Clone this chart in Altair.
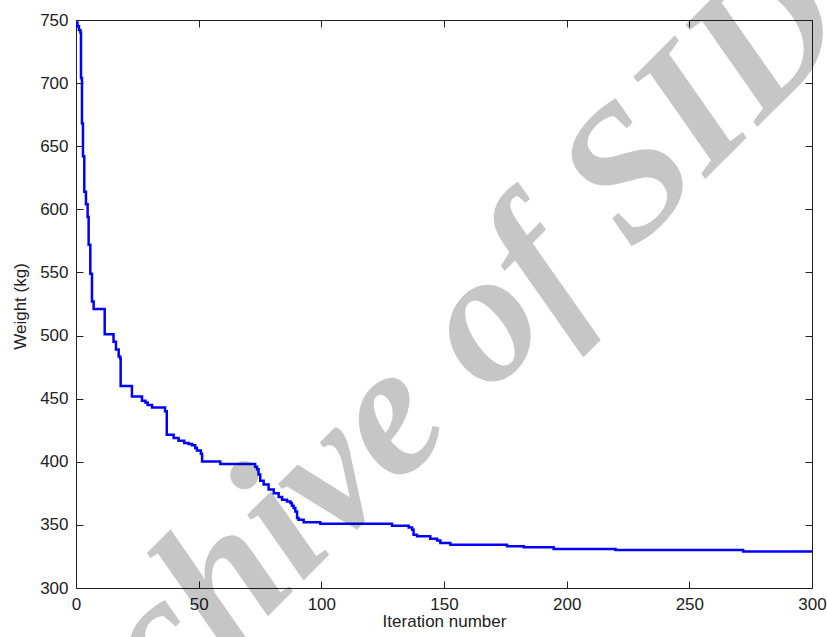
import altair as alt
import pandas as pd

# Best weight found so far at each iteration (step curve breakpoints)
iterations = [0, 0.6, 1.2, 1.8, 2.03, 2.43, 2.84, 3.38, 4.06, 4.74, 5.15, 5.83, 6.51, 7.19,
              11.7, 15.3, 16.3, 17.4, 18.0, 18.2, 22.8, 26.9, 28.3, 29.2, 31.0, 36.3, 37.0,
              39.8, 41.8, 44.1, 45.9, 47.3, 48.6, 49.3, 50.9, 51.4, 58.8, 73.0, 73.8, 74.4,
              75.1, 76.5, 78.5, 80.6, 82.6, 84.0, 86.0, 87.4, 88.0, 88.7, 89.4, 90.1, 90.7,
              92.8, 99.6, 128.8, 135.6, 137.0, 137.6, 139.0, 144.4, 147.2, 148.5, 152.6,
              175.7, 182.5, 194.7, 219.9, 271.9, 300]
weights = [748, 745, 742, 740, 704, 668, 642, 614, 604, 594, 572, 549, 527, 521,
           501, 495, 489, 483.5, 482, 460, 451.7, 448.3, 447, 445, 443, 440, 421.4,
           418.8, 416.6, 414.8, 414, 413, 411, 409, 406.3, 400.2, 398.2, 396, 394, 390,
           385, 382, 378, 375, 372, 370, 368.6, 367.3, 365.2, 363.3, 360.6, 355.4, 354,
           352, 351, 349.3, 348, 346.2, 342.2, 341, 339, 337.7, 335.6, 334.3,
           333, 332.2, 330.9, 330.1, 329, 329]

x_ticks = [0, 50, 100, 150, 200, 250, 300]
y_ticks = [300, 350, 400, 450, 500, 550, 600, 650, 700, 750]
x_title = "Iteration number"
y_title = "Weight (kg)"
watermark = ["Archive of SID"]

df = pd.DataFrame({"iteration": iterations, "weight": weights})
wm = pd.DataFrame({"t": watermark})

W, H = 736, 568
INK = "#222222"
FONT = "Liberation Sans"

xscale = alt.Scale(domain=[0, 300], nice=False, zero=False)
yscale = alt.Scale(domain=[300, 750], nice=False, zero=False)

base = alt.Chart(df)

main = base.mark_line(color="#0000ff", strokeWidth=2.5, interpolate="step-after", clip=True).encode(
    x=alt.X("iteration:Q", scale=xscale,
            axis=alt.Axis(orient="bottom", values=x_ticks, ticks=False, tickSize=0, domain=False,
                          grid=False, labelFont=FONT, labelFontSize=17, labelColor=INK,
                          labelBaseline="alphabetic", labelPadding=21, labelOverlap=False,
                          labelFlush=False, labelBound=False,
                          title=x_title, titleFont=FONT, titleFontSize=17, titleFontWeight="normal",
                          titleColor=INK, titleBaseline="alphabetic", titleY=38)),
    y=alt.Y("weight:Q", scale=yscale,
            axis=alt.Axis(orient="left", values=y_ticks, ticks=False, tickSize=0, domain=False,
                          grid=False, labelFont=FONT, labelFontSize=17, labelColor=INK,
                          labelBaseline="middle", labelAlign="right", labelPadding=8,
                          labelOverlap=False, labelFlush=False, labelBound=False,
                          title=y_title, titleFont=FONT, titleFontSize=17, titleFontWeight="normal",
                          titleColor=INK, titleBaseline="alphabetic", titleAngle=270,
                          titleX=-51, titleY=286)),
)


def tick_layer(x_orient, y_orient):
    return base.mark_line(opacity=0).encode(
        x=alt.X("iteration:Q", scale=xscale,
                axis=alt.Axis(orient=x_orient, offset=-H, values=x_ticks, labels=False, domain=False,
                              grid=False, ticks=True, tickSize=7, tickColor=INK, tickWidth=1, title="")),
        y=alt.Y("weight:Q", scale=yscale,
                axis=alt.Axis(orient=y_orient, offset=-W, values=y_ticks, labels=False, domain=False,
                              grid=False, ticks=True, tickSize=7, tickColor=INK, tickWidth=1, title="")),
    )


ticks_in_a = tick_layer("top", "right")     # bottom and left edges, ticks pointing inward
ticks_in_b = tick_layer("bottom", "left")   # top and right edges, ticks pointing inward

mark_wm = alt.Chart(wm).mark_text(
    font="Liberation Serif", fontStyle="italic", fontWeight="bold", fontSize=188,
    angle=315, color="black", opacity=0.22, align="center", baseline="middle",
).encode(text="t:N", x=alt.value(325), y=alt.value(384))

chart = alt.layer(main, ticks_in_a, ticks_in_b, mark_wm).resolve_axis(
    x="independent", y="independent"
).properties(
    width=W, height=H,
    padding={"left": 76, "top": 20, "right": 15, "bottom": 49},
    autosize=alt.AutoSizeParams(type="none"),
    background="white",
).configure_view(stroke=INK, strokeWidth=1)

chart.save("out.html", embed_options={"renderer": "svg", "actions": False})
